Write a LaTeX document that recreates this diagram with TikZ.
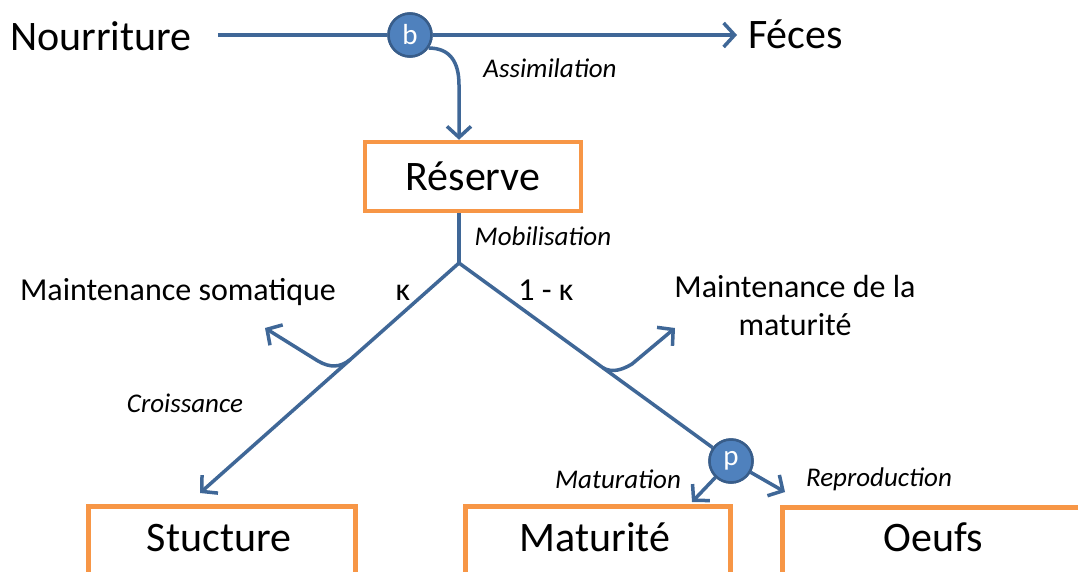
\documentclass[tikz,border=0pt]{standalone}
\usepackage{fontspec}
\setmainfont{Carlito}
\usetikzlibrary{arrows.meta,calc}
\definecolor{lnc}{HTML}{3F6797}
\definecolor{cfill}{HTML}{4F81BD}
\definecolor{cedge}{HTML}{385D8A}
\definecolor{orng}{HTML}{F79646}
\begin{document}
\begin{tikzpicture}[x=1pt,y=-1pt,
  conn/.style={draw=lnc, line width=3.5pt},
  arr/.style={conn, -{Straight Barb[length=11pt,width=24pt]}},
  big/.style={font=\fontsize{42}{46}\selectfont, inner sep=0pt},
  mid/.style={font=\fontsize{32}{38}\selectfont, inner sep=0pt},
  lab/.style={font=\fontsize{27}{30}\selectfont\itshape, inner sep=0pt},
  circ/.style={circle, fill=cfill, draw=cedge, line width=2.5pt, minimum size=43pt, inner sep=0pt, text=white, font=\fontsize{29}{32}\selectfont},
  box/.style={draw=orng, line width=4.5pt, inner sep=0pt, fill=white}]
\clip (0,0) rectangle (1078,571);
\fill[white] (0,0) rectangle (1078,571);

% top row
\node[big, anchor=base] (nour) at (101,50) {Nourriture};
\node[big, anchor=base west] (fec) at (748,48) {Féces};
\node[circ] (b) at (410,35) {b};
\node[box, minimum width=216pt, minimum height=69pt, font=\fontsize{42}{46}\selectfont] (res) at (473,176.5) {Réserve};

% bottom boxes
\node[box, anchor=north west, minimum width=267pt, minimum height=100pt] (stubox) at (86,504) {};
\node[box, anchor=north west, minimum width=265pt, minimum height=100pt] (matbox) at (463,504) {};
\node[box, anchor=north west, minimum width=330pt, minimum height=100pt] (oeubox) at (780,505) {};
\node[big, anchor=base] (stu) at (219,551) {Stucture};
\node[big, anchor=base] (matu) at (595,551) {Maturité};
\node[big, anchor=base] (oeu) at (933,551) {Oeufs};

% labels
\node[lab, anchor=base] (assim) at (550,77) {Assimilation};
\node[lab, anchor=base] (mob) at (543,245) {Mobilisation};
\node[mid, anchor=base] (kap) at (403,300) {κ};
\node[mid, anchor=base] (omk) at (546,300) {1 - κ};
\node[mid, anchor=base] (ms) at (178,300) {Maintenance somatique};
\node[mid, anchor=base] (mm1) at (795,297) {Maintenance de la};
\node[mid, anchor=base] (mm2) at (795,335) {maturité};
\node[lab, anchor=base] (cro) at (185,412) {Croissance};
\node[lab, anchor=base] (mat) at (618,488) {Maturation};
\node[lab, anchor=base] (rep) at (879,486) {Reproduction};

% coordinates
\coordinate (S) at (459,263);
\coordinate (stip) at (200,493);
\node[circ] (p) at (731,461) {p};
\coordinate (bl) at ($(S)!0.42!(stip)$);
\coordinate (lk) at (318,361);
\coordinate (ltip) at (265,328);
\coordinate (br) at ($(S)!0.53!(p.center)$);
\coordinate (rk) at (632,364);
\coordinate (rtip) at (675,328);
\coordinate (mtip) at (692,502);
\coordinate (otip) at (785,492);

% connectors
\draw[conn] ($(nour.east |- b)+(26,0)$) -- (b);
\draw[arr] (b) -- ($(fec.west |- b)+(-11,0)$);
\draw[arr] (b.-35) .. controls (450,48) and (459,62) .. (459,85) -- (res.north -| S);
\draw[conn] (res.south -| S) -- (S);
\draw[arr] (S) -- (stip);
\draw[conn] (S) -- (p);
\draw[arr] (bl) .. controls +(-10,8) and +(12,7) .. (lk) -- (ltip);
\draw[arr] (br) .. controls +(9,5) and +(-10,6) .. (rk) -- (rtip);
\draw[arr] (p) -- (mtip);
\draw[arr] (p) -- (otip);
\node[circ] at (b) {b};
\node[circ] at (p) {p};
\end{tikzpicture}
\end{document}
